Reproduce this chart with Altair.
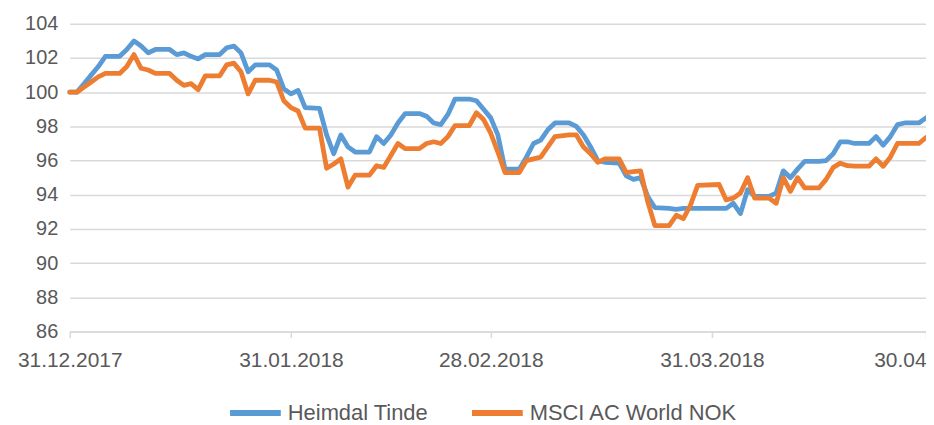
import altair as alt
import pandas as pd

series_names = ["Heimdal Tinde", "MSCI AC World NOK"]
series_colors = ["#5B9BD5", "#ED7D31"]

heimdal_dates = [
    "2017-12-31", "2018-01-01", "2018-01-02", "2018-01-03", "2018-01-04", "2018-01-05",
    "2018-01-07", "2018-01-08", "2018-01-09", "2018-01-10", "2018-01-11", "2018-01-12",
    "2018-01-14", "2018-01-15", "2018-01-16", "2018-01-17", "2018-01-18", "2018-01-19",
    "2018-01-21", "2018-01-22", "2018-01-23", "2018-01-24", "2018-01-25", "2018-01-26",
    "2018-01-28", "2018-01-29", "2018-01-30", "2018-01-31", "2018-02-01", "2018-02-02",
    "2018-02-04", "2018-02-05", "2018-02-06", "2018-02-07", "2018-02-08", "2018-02-09",
    "2018-02-11", "2018-02-12", "2018-02-13", "2018-02-14", "2018-02-15", "2018-02-16",
    "2018-02-18", "2018-02-19", "2018-02-20", "2018-02-21", "2018-02-22", "2018-02-23",
    "2018-02-25", "2018-02-26", "2018-02-27", "2018-02-28", "2018-03-01", "2018-03-02",
    "2018-03-04", "2018-03-05", "2018-03-06", "2018-03-07", "2018-03-08", "2018-03-09",
    "2018-03-11", "2018-03-12", "2018-03-13", "2018-03-14", "2018-03-15", "2018-03-16",
    "2018-03-18", "2018-03-19", "2018-03-20", "2018-03-21", "2018-03-22", "2018-03-23",
    "2018-03-25", "2018-03-26", "2018-03-27", "2018-03-28", "2018-04-02", "2018-04-03",
    "2018-04-04", "2018-04-05", "2018-04-06", "2018-04-08", "2018-04-09", "2018-04-10",
    "2018-04-11", "2018-04-12", "2018-04-13", "2018-04-15", "2018-04-16", "2018-04-17",
    "2018-04-18", "2018-04-19", "2018-04-20", "2018-04-22", "2018-04-23", "2018-04-24",
    "2018-04-25", "2018-04-26", "2018-04-27", "2018-04-29", "2018-04-30",
]
heimdal_values = [
    100.0, 100.0, 100.5, 101.0, 101.5, 102.1,
    102.1, 102.5, 103.0, 102.7, 102.3, 102.5,
    102.5, 102.2, 102.3, 102.1, 101.95, 102.2,
    102.2, 102.6, 102.7, 102.3, 101.2, 101.6,
    101.6, 101.3, 100.2, 99.9, 100.1, 99.1,
    99.05, 97.5, 96.4, 97.5, 96.8, 96.5,
    96.5, 97.4, 97.0, 97.5, 98.2, 98.75,
    98.75, 98.6, 98.2, 98.1, 98.7, 99.6,
    99.6, 99.5, 99.0, 98.5, 97.5, 95.5,
    95.5, 96.2, 97.0, 97.2, 97.8, 98.2,
    98.2, 98.0, 97.5, 96.8, 96.0, 95.9,
    95.85, 95.1, 94.9, 95.0, 93.9, 93.25,
    93.2, 93.15, 93.2, 93.2, 93.2, 93.5,
    92.9, 94.3, 93.9, 93.9, 94.1, 95.4,
    95.0, 95.5, 95.95, 95.95, 96.0, 96.4,
    97.1, 97.1, 97.0, 97.0, 97.4, 96.9,
    97.4, 98.1, 98.2, 98.2, 98.5,
]

msci_dates = [
    "2017-12-31", "2018-01-01", "2018-01-02", "2018-01-03", "2018-01-04", "2018-01-05",
    "2018-01-07", "2018-01-08", "2018-01-09", "2018-01-10", "2018-01-11", "2018-01-12",
    "2018-01-14", "2018-01-15", "2018-01-16", "2018-01-17", "2018-01-18", "2018-01-19",
    "2018-01-21", "2018-01-22", "2018-01-23", "2018-01-24", "2018-01-25", "2018-01-26",
    "2018-01-28", "2018-01-29", "2018-01-30", "2018-01-31", "2018-02-01", "2018-02-02",
    "2018-02-04", "2018-02-05", "2018-02-06", "2018-02-07", "2018-02-08", "2018-02-09",
    "2018-02-11", "2018-02-12", "2018-02-13", "2018-02-14", "2018-02-15", "2018-02-16",
    "2018-02-18", "2018-02-19", "2018-02-20", "2018-02-21", "2018-02-22", "2018-02-23",
    "2018-02-25", "2018-02-26", "2018-02-27", "2018-02-28", "2018-03-01", "2018-03-02",
    "2018-03-04", "2018-03-05", "2018-03-06", "2018-03-07", "2018-03-08", "2018-03-09",
    "2018-03-11", "2018-03-12", "2018-03-13", "2018-03-14", "2018-03-15", "2018-03-16",
    "2018-03-18", "2018-03-19", "2018-03-20", "2018-03-21", "2018-03-22", "2018-03-23",
    "2018-03-25", "2018-03-26", "2018-03-27", "2018-03-28", "2018-03-29", "2018-04-01",
    "2018-04-02", "2018-04-03", "2018-04-04", "2018-04-05", "2018-04-06", "2018-04-08",
    "2018-04-09", "2018-04-10", "2018-04-11", "2018-04-12", "2018-04-13", "2018-04-15",
    "2018-04-16", "2018-04-17", "2018-04-18", "2018-04-19", "2018-04-20", "2018-04-22",
    "2018-04-23", "2018-04-24", "2018-04-25", "2018-04-26", "2018-04-27", "2018-04-29",
    "2018-04-30",
]
msci_values = [
    100.0, 100.0, 100.3, 100.6, 100.9, 101.1,
    101.1, 101.5, 102.2, 101.4, 101.3, 101.1,
    101.1, 100.7, 100.4, 100.5, 100.15, 100.95,
    100.95, 101.6, 101.7, 101.2, 99.9, 100.7,
    100.7, 100.6, 99.5, 99.1, 98.9, 97.9,
    97.9, 95.55, 95.8, 96.1, 94.45, 95.15,
    95.15, 95.7, 95.6, 96.3, 97.0, 96.7,
    96.7, 97.0, 97.1, 97.0, 97.4, 98.05,
    98.05, 98.8, 98.4, 97.6, 96.5, 95.3,
    95.3, 96.0, 96.1, 96.2, 96.8, 97.4,
    97.5, 97.5, 96.8, 96.4, 95.9, 96.1,
    96.1, 95.3, 95.35, 95.4, 93.6, 92.2,
    92.2, 92.8, 92.6, 93.4, 94.55, 94.6,
    93.7, 93.8, 94.1, 95.0, 93.8, 93.8,
    93.5, 95.0, 94.2, 95.0, 94.4, 94.4,
    94.9, 95.6, 95.85, 95.7, 95.67, 95.67,
    96.1, 95.67, 96.2, 97.0, 97.0, 97.0,
    97.35,
]

y_ticks = [86, 88, 90, 92, 94, 96, 98, 100, 102, 104]
x_ticks = [(2017, 12, 31), (2018, 1, 31), (2018, 2, 28), (2018, 3, 31), (2018, 4, 30)]

df = pd.concat([
    pd.DataFrame({"date": heimdal_dates, "value": heimdal_values, "series": series_names[0]}),
    pd.DataFrame({"date": msci_dates, "value": msci_values, "series": series_names[1]}),
], ignore_index=True)

FONT = "Liberation Sans, Arial, sans-serif"
TXT = "#595959"
GRID = "#D9D9D9"


def dt(t):
    return alt.DateTime(year=t[0], month=t[1], date=t[2], utc=True)


chart = alt.Chart(df).mark_line(strokeWidth=4.8, strokeCap="round", strokeJoin="round").encode(
    x=alt.X(
        "date:T",
        scale=alt.Scale(type="utc", domain=[dt(x_ticks[0]), dt(x_ticks[-1])]),
        axis=alt.Axis(
            values=[dt(t) for t in x_ticks],
            labelExpr="utcFormat(datum.value, '%d.%m.%Y')",
            title=None, grid=False, domainColor=GRID, domainWidth=1.5,
            tickColor=GRID, tickSize=6, tickWidth=1.5, labelPadding=12,
            labelFontSize=21, labelColor=TXT, labelFont=FONT, labelOverlap=False,
            labelFlush=False,
        ),
    ),
    y=alt.Y(
        "value:Q",
        scale=alt.Scale(domain=[86, 104], nice=False, zero=False),
        axis=alt.Axis(
            values=y_ticks, title=None, domain=False, ticks=False, grid=True,
            gridColor=GRID, gridWidth=1.5, labelPadding=12, labelFontSize=20,
            labelColor=TXT, labelFont=FONT,
        ),
    ),
    color=alt.Color(
        "series:N",
        scale=alt.Scale(domain=series_names, range=series_colors),
        legend=alt.Legend(
            orient="none", legendX=158, legendY=362, direction="horizontal",
            title=None, symbolType="stroke", symbolSize=2600, symbolStrokeWidth=6,
            labelFontSize=22, labelColor=TXT, labelFont=FONT, columnPadding=31,
            labelOffset=4, labelLimit=400,
        ),
    ),
).properties(
    width=860, height=309,
    autosize=alt.AutoSizeParams(type="none"),
    padding={"left": 62, "top": 15, "right": 0, "bottom": 92},
).configure_view(stroke=None)

chart.save("out.html", embed_options={"renderer": "svg", "actions": False})
